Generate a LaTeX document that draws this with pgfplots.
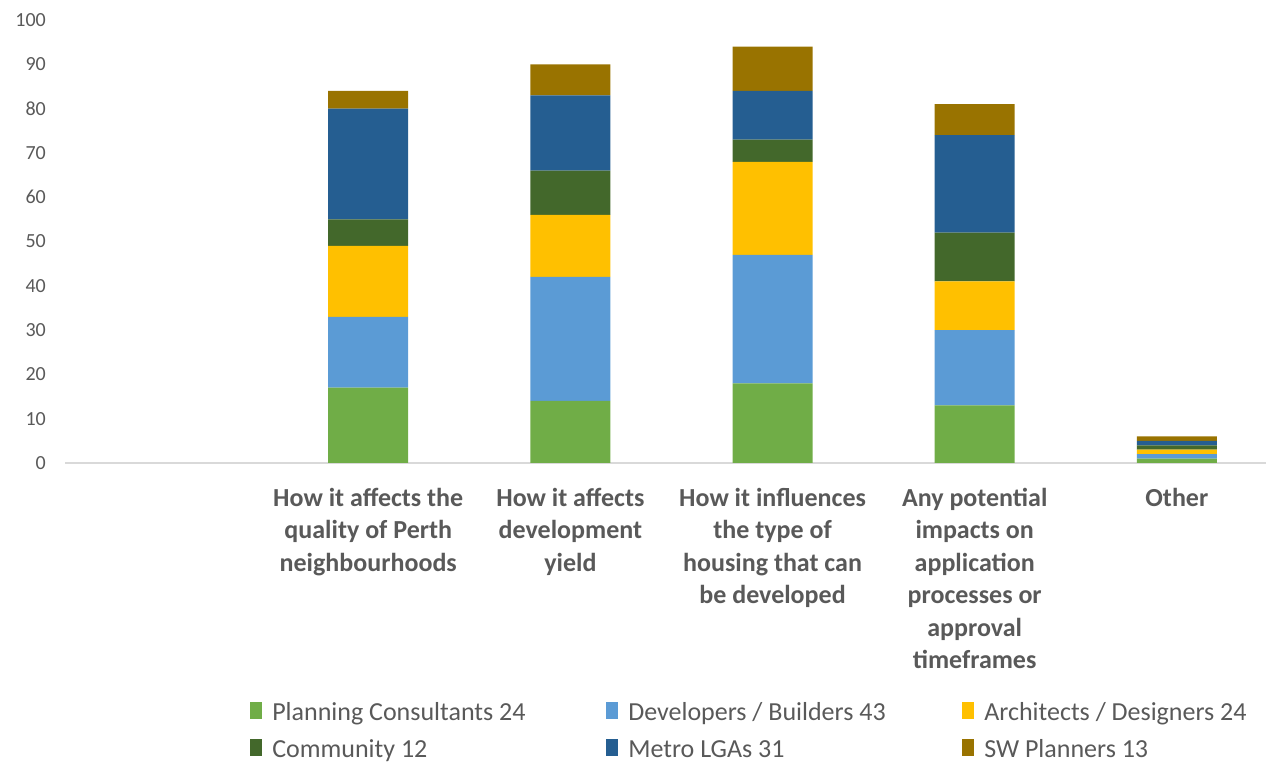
\documentclass[border=0pt]{standalone}
\usepackage{pgfplots}
\pgfplotsset{compat=1.18}
\usepackage{fontspec}
\setmainfont{Carlito}
\definecolor{cGreen}{HTML}{70AD47}
\definecolor{cBlue}{HTML}{5B9BD5}
\definecolor{cYellow}{HTML}{FFC000}
\definecolor{cDkGreen}{HTML}{43682B}
\definecolor{cNavy}{HTML}{255E91}
\definecolor{cBrown}{HTML}{997300}
\definecolor{textgray}{HTML}{595959}
\definecolor{axisgray}{HTML}{D9D9D9}
\newcommand{\legent}[1]{\makebox[344bp][l]{\hspace{10bp}\rule[-9.5bp]{0pt}{36bp}#1}}
\begin{document}
\begin{tikzpicture}
\useasboundingbox (0bp,0bp) rectangle (1266bp,763bp);
\begin{axis}[
  at={(65bp,300bp)}, anchor=south west,
  scale only axis, width=1213bp, height=443bp,
  xmin=-0.5, xmax=5.5, ymin=0, ymax=100,
  ybar stacked, bar width=80bp,
  axis x line=bottom, axis y line=left,
  x axis line style={draw=axisgray, line width=1.2bp, -},
  y axis line style={draw=none},
  major tick length=0pt,
  ytick={0,10,...,100},
  xtick={1,2,3,4,5},
  xticklabels={{How it affects the\\quality of Perth\\neighbourhoods},
               {How it affects\\development\\yield},
               {How it influences\\the type of\\housing that can\\be developed},
               {Any potential\\impacts on\\application\\processes or\\approval\\timeframes},
               {Other}},
  /pgf/number format/assume math mode=true,
  yticklabel style={font=\fontsize{20bp}{24bp}\selectfont, text=textgray, anchor=east, inner sep=0pt, xshift=-19bp},
  xticklabel style={font=\fontsize{26bp}{32.4bp}\selectfont\bfseries, text=textgray, align=center, anchor=north, inner sep=0pt, yshift=-25bp},
  mylegend/.style={legend image code/.code={\fill[##1] (0bp,-11bp) rectangle (12bp,6bp);}},
  legend columns=3,
  legend style={at={(0.1526,-0.5214)}, anchor=north west, draw=none, fill=none,
    inner sep=0pt, column sep=0pt, row sep=9bp,
    nodes={inner sep=0pt, font=\fontsize{26bp}{30bp}\selectfont, text=textgray}},
  legend cell align=left,
]
\addplot+[fill=cGreen, draw=none, mylegend] coordinates {(1,17) (2,14) (3,18) (4,13) (5,1)};
\addplot+[fill=cBlue, draw=none, mylegend] coordinates {(1,16) (2,28) (3,29) (4,17) (5,1)};
\addplot+[fill=cYellow, draw=none, mylegend] coordinates {(1,16) (2,14) (3,21) (4,11) (5,1)};
\addplot+[fill=cDkGreen, draw=none, mylegend] coordinates {(1,6) (2,10) (3,5) (4,11) (5,1)};
\addplot+[fill=cNavy, draw=none, mylegend] coordinates {(1,25) (2,17) (3,11) (4,22) (5,1)};
\addplot+[fill=cBrown, draw=none, mylegend] coordinates {(1,4) (2,7) (3,10) (4,7) (5,1)};
\legend{\legent{Planning Consultants 24},\legent{Developers / Builders 43},\legent{Architects / Designers 24},
        \legent{Community 12},\legent{Metro LGAs 31},\legent{SW Planners 13}}
\end{axis}
\end{tikzpicture}
\end{document}
